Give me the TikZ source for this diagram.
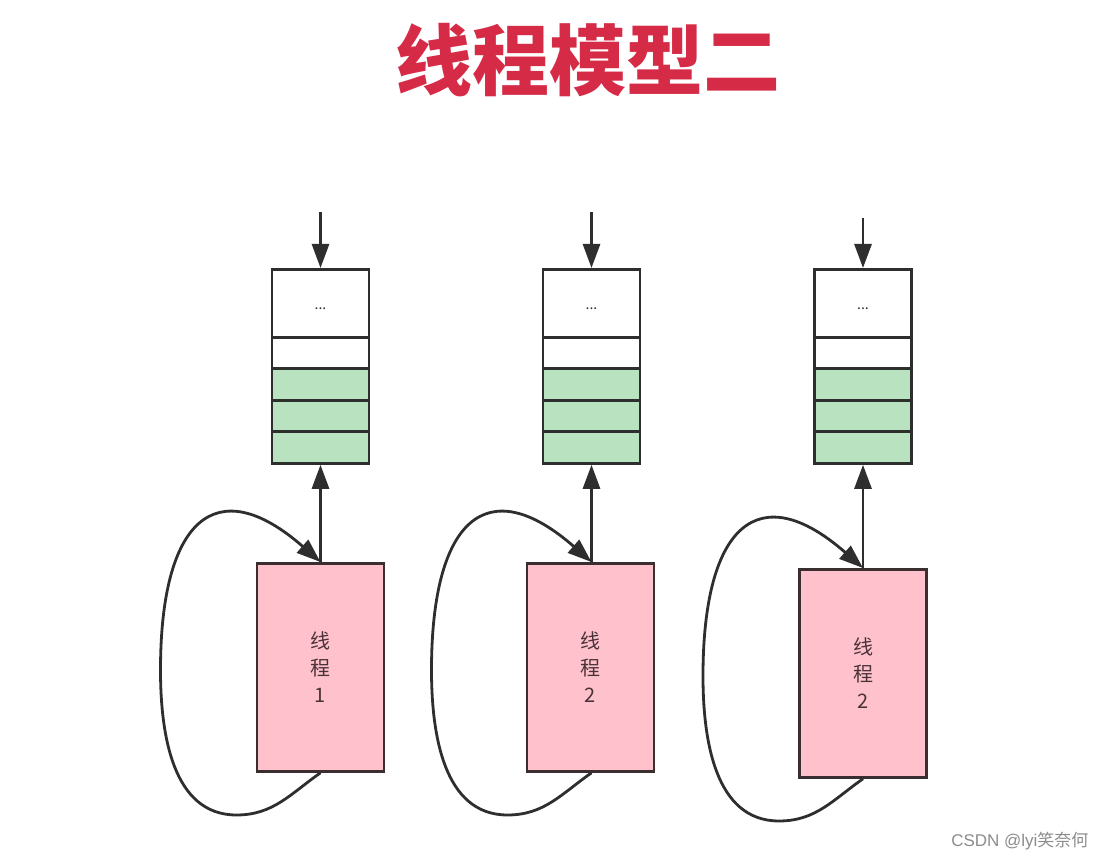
\documentclass[tikz,border=0pt]{standalone}
\usepackage{fontspec}
\setmainfont{Noto Sans CJK SC}
\newfontfamily\cjk{Noto Sans CJK SC}
\newfontfamily\wmfont{Liberation Sans}
\usetikzlibrary{arrows.meta}
\definecolor{titlered}{HTML}{D52B47}
\definecolor{cellgreen}{HTML}{B8E2C0}
\definecolor{threadpink}{HTML}{FFC2CC}
\definecolor{stroke}{HTML}{2E2E2E}
\definecolor{boxstroke}{HTML}{3A2E31}
\definecolor{labelcol}{HTML}{4A3338}
\begin{document}
\begin{tikzpicture}[x=1pt,y=1pt,
  cell/.style={draw=stroke, line width=2.8pt, inner sep=0pt, minimum width=97pt, fill=white},
  gcell/.style={cell, fill=cellgreen},
  thread/.style={draw=boxstroke, line width=2.8pt, fill=threadpink, inner sep=0pt,
     minimum width=127pt, align=center, text=labelcol,
     font=\cjk\fontsize{20}{27}\selectfont},
  conn/.style={draw=stroke, line width=2.8pt, -{Triangle[length=24pt,width=17pt]}},
  dots/.style={font=\fontsize{14}{14}\selectfont, text=stroke}
]
\useasboundingbox (0,0) rectangle (1106,-861);

\node[font=\cjk\bfseries\fontsize{77}{77}\selectfont, text=titlered] (title) at (588,-60) {线程模型二};

% columns: queue x, thread x, box top, box bottom, arrow start y, label
\foreach \i/\qx/\tx/\bt/\bb/\ay/\lab in {1/320.5/320.5/562/770/212/1, 2/591.5/590.5/562/770/212/2, 3/863/863/568/776/218/2}{
  \node[cell, minimum height=68pt, anchor=north] (q\i a) at (\qx,-268) {};
  \node[dots] (d\i) at ([yshift=-5pt]q\i a.center) {...};
  \node[cell, minimum height=31pt, anchor=north] (q\i b) at (\qx,-336) {};
  \node[gcell, minimum height=31.7pt, anchor=north] (q\i c) at (\qx,-367) {};
  \node[gcell, minimum height=31.7pt, anchor=north] (q\i d) at (\qx,-398.7) {};
  \node[gcell, minimum height=31.6pt, anchor=north] (q\i e) at (\qx,-430.4) {};
  \node[thread, minimum height={\bb-\bt}, anchor=north] (t\i) at (\tx,-\bt) {线\\程\\\lab};
  \coordinate (in\i) at (\qx,-\ay);
  \coordinate (top\i) at (t\i.north -| q\i e.south);
  \coordinate (bot\i) at (t\i.south -| q\i e.south);
  \draw[conn] (in\i) -- (q\i a.north);
  \draw[conn] (top\i) -- (q\i e.south);
  \draw[conn] (bot\i) to[out=215,in=0] (\qx-84,-\bb-45)
     to[out=180,in=-90] (\qx-160,-\bb+100)
     .. controls (\qx-160,-\bt+42) and (\qx-105,-\bt+92) .. (top\i);
}

\node[font=\wmfont\fontsize{17}{17}\selectfont, text=gray!90, anchor=east] (wm) at (1092,-841) {CSDN @lyi{\cjk 笑奈何}};
\end{tikzpicture}
\end{document}
